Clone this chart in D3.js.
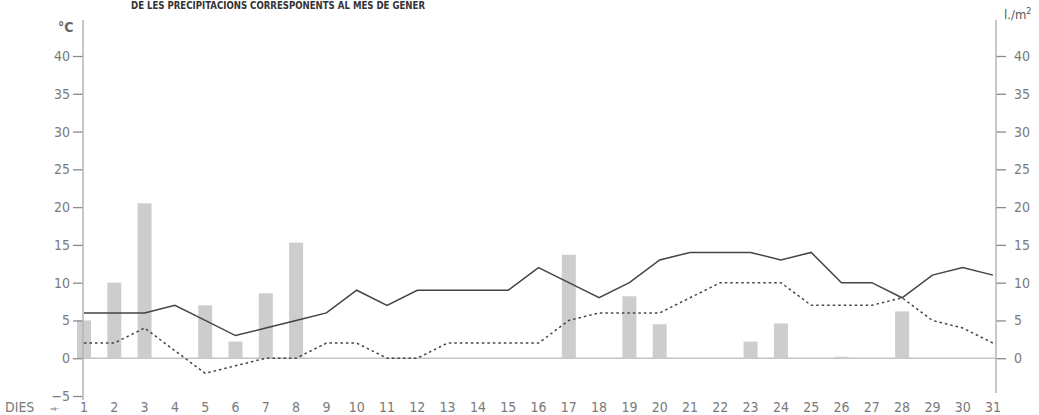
<!DOCTYPE html>
<html>
<head>
<meta charset="utf-8">
<script src="https://cdn.jsdelivr.net/npm/d3@7"></script>
<style>
  body { margin: 0; background: #fff; }
  svg text { font-family: "Liberation Sans Narrow", "DejaVu Sans Condensed", "Roboto", sans-serif; }
</style>
</head>
<body>
<svg id="chart" width="1039" height="415"></svg>
<script>
// days of the month
var days = d3.range(1, 32);

// max temperature (°C), solid line
var tempMax = [6, 6, 6, 7, 5, 3, 4, 5, 6, 9, 7, 9, 9, 9, 9, 12,
               10, 8, 10, 13, 14, 14, 14, 13, 14, 10, 10, 8, 11, 12, 11];

// min temperature (°C), dotted line
var tempMin = [2, 2, 4, 1, -2, -1, 0, 0, 2, 2, 0, 0, 2, 2, 2, 2,
               5, 6, 6, 6, 8, 10, 10, 10, 7, 7, 7, 8, 5, 4, 2];

// precipitation (l./m2), bars
var rainDays = [1, 2, 3, 5, 6, 7, 8, 17, 19, 20, 23, 24, 26, 28];
var rainVals = [5, 10, 20.5, 7, 2.2, 8.6, 15.3, 13.7, 8.2, 4.5, 2.2, 4.6, 0.2, 6.2];

var leftTicks = [-5, 0, 5, 10, 15, 20, 25, 30, 35, 40];
var rightTicks = [0, 5, 10, 15, 20, 25, 30, 35, 40];

var svg = d3.select("#chart");

var x = d3.scaleLinear().domain([1, 31]).range([84, 993]);
var y = d3.scaleLinear().domain([-5, 40]).range([396, 56]);

var axisCol = "#b4b4b4";
var textCol = "#7a7a7a";

// title (only its lower part shows in the original scan)
svg.append("text")
  .attr("x", 131).attr("y", 9)
  .attr("font-size", 11).attr("font-weight", "bold")
  .attr("fill", "#333")
  .attr("textLength", 294).attr("lengthAdjust", "spacingAndGlyphs")
  .text("DE LES PRECIPITACIONS CORRESPONENTS AL MES DE GENER");

// zero line
svg.append("line")
  .attr("x1", 83).attr("x2", 996)
  .attr("y1", y(0)).attr("y2", y(0))
  .attr("stroke", "#c4c4c4").attr("stroke-width", 1.5);

// precipitation bars
svg.selectAll("rect.bar")
  .data(rainDays)
  .enter()
  .append("rect")
  .attr("class", "bar")
  .attr("x", function(d) { return x(d) - 7; })
  .attr("width", 14)
  .attr("y", function(d, i) { return y(rainVals[i]); })
  .attr("height", function(d, i) { return y(0) - y(rainVals[i]); })
  .attr("fill", "#cdcdcd");

// left axis
var gl = svg.append("g").attr("transform", "translate(83,0)")
  .call(d3.axisLeft(y).tickValues(leftTicks).tickSize(10).tickPadding(3)
        .tickFormat(function(d) { return d < 0 ? "\u2212" + Math.abs(d) : d; }));
gl.select(".domain").remove();
gl.append("line").attr("x1", 0).attr("x2", 0).attr("y1", 20).attr("y2", 400)
  .attr("stroke", axisCol).attr("stroke-width", 1.5);

// right axis
var gr = svg.append("g").attr("transform", "translate(996,0)")
  .call(d3.axisRight(y).tickValues(rightTicks).tickSize(10).tickPadding(8));
gr.select(".domain").remove();
gr.append("line").attr("x1", 0).attr("x2", 0).attr("y1", 20).attr("y2", 393)
  .attr("stroke", axisCol).attr("stroke-width", 1.5);

svg.selectAll(".tick line").attr("stroke", "#8a8a8a").attr("stroke-width", 1.3);
svg.selectAll(".tick text").attr("fill", textCol).attr("font-size", 14);

// unit labels
svg.append("text").attr("x", 58).attr("y", 32)
  .attr("font-size", 14).attr("font-weight", "bold").attr("fill", "#666")
  .text("°C");
var unit = svg.append("text").attr("x", 1004).attr("y", 19)
  .attr("font-size", 13).attr("fill", "#555").text("l./m");
unit.append("tspan").attr("dy", -5).attr("font-size", 9).text("2");

// day labels
svg.selectAll("text.day")
  .data(days)
  .enter()
  .append("text")
  .attr("class", "day")
  .attr("x", function(d) { return x(d); })
  .attr("y", 412)
  .attr("text-anchor", "middle")
  .attr("font-size", 14)
  .attr("fill", textCol)
  .text(function(d) { return d; });

svg.append("text").attr("x", 5).attr("y", 412)
  .attr("font-size", 14).attr("fill", textCol).text("DIES");
svg.append("text").attr("x", 50).attr("y", 412)
  .attr("font-size", 9).attr("fill", textCol).text("\u21d2\u00b7");

// temperature lines
var line = d3.line()
  .x(function(d, i) { return x(days[i]); })
  .y(function(d) { return y(d); });

svg.append("path")
  .datum(tempMax)
  .attr("d", line)
  .attr("fill", "none")
  .attr("stroke", "#444")
  .attr("stroke-width", 1.5);

svg.append("path")
  .datum(tempMin)
  .attr("d", line)
  .attr("fill", "none")
  .attr("stroke", "#444")
  .attr("stroke-width", 1.5)
  .attr("stroke-dasharray", "2.5,3");
</script>
</body>
</html>
